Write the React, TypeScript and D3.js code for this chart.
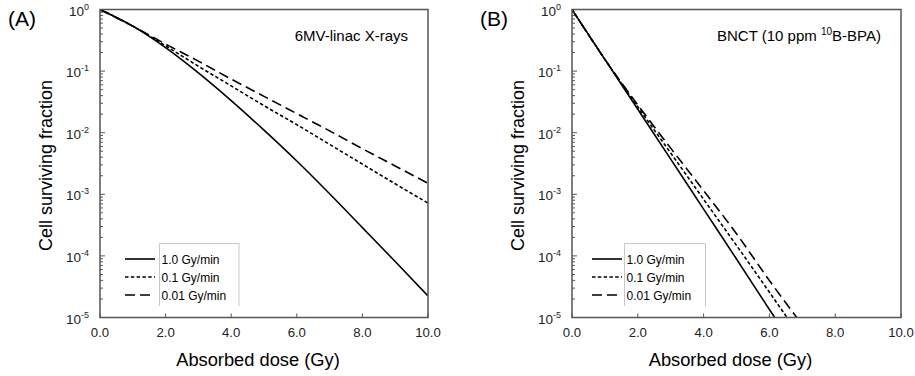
import React from "react";
import * as d3 from "d3";

// ---- data ----
const xTicks = [0, 2, 4, 6, 8, 10];
const xTickLabels = ["0.0", "2.0", "4.0", "6.0", "8.0", "10.0"];
const yDecades = [0, -1, -2, -3, -4, -5];
const seriesNames = ["1.0 Gy/min", "0.1 Gy/min", "0.01 Gy/min"];

const doseA = [0, 1, 2, 3, 4, 5, 6, 7, 8, 9, 10];
const sfA_10 = [1, 0.537, 0.24, 0.0933, 0.0331, 0.011, 0.00347, 0.00102, 0.000288, 0.000081, 0.0000224];
const sfA_01 = [1, 0.537, 0.257, 0.12, 0.0575, 0.0275, 0.0135, 0.00646, 0.00309, 0.00148, 0.00072];
const sfA_001 = [1, 0.537, 0.275, 0.145, 0.0741, 0.0389, 0.0204, 0.0107, 0.0055, 0.00288, 0.00151];

const doseB = [0, 1, 2, 3, 4, 5, 6, 7];
const sfB_10 = [1, 0.155, 0.024, 0.00372, 0.000575, 0.000089, 0.0000135, 0.0000021];
const sfB_01 = [1, 0.155, 0.0263, 0.00468, 0.00083, 0.000148, 0.0000257, 0.0000044];
const sfB_001 = [1, 0.155, 0.0282, 0.00562, 0.00115, 0.000229, 0.0000398, 0.0000076];

const dashes = [null, "3.5,2.3", "10,5"];
const FONT = "Arial, 'Liberation Sans', sans-serif";

type PanelProps = {
  id: string;
  left: number;
  right: number;
  letter: string;
  letterX: number;
  dose: number[];
  series: number[][];
  title: React.ReactNode;
  legendBox: [number, number];
  legendLine: [number, number];
};

function Panel(p: PanelProps) {
  const top = 9.5;
  const bottom = 317.5;
  const x = d3.scaleLinear().domain([0, 10]).range([p.left, p.right]);
  const y = d3.scaleLog().domain([1e-5, 1]).range([bottom, top]);
  const line = d3
    .line<[number, number]>()
    .x((d) => x(d[0]))
    .y((d) => y(d[1]))
    .curve(d3.curveMonotoneX);
  const minor: number[] = [];
  for (let k = -5; k < 0; k++) for (let m = 2; m <= 9; m++) minor.push(m * Math.pow(10, k));
  const frame = "#555";
  const cx = (p.left + p.right) / 2 - 6;
  const rows = [259, 277, 295];
  return (
    <g>
      <defs>
        <clipPath id={"clip" + p.id}>
          <rect x={p.left} y={top} width={p.right - p.left} height={bottom - top} />
        </clipPath>
      </defs>
      <text x={p.letterX} y={26} fontSize={21} fontFamily={FONT} fill="#000">{p.letter}</text>
      <g clipPath={`url(#clip${p.id})`}>
        {p.series.map((s, i) => (
          <path
            key={i}
            d={line(p.dose.map((d, j) => [d, s[j]] as [number, number])) || ""}
            fill="none"
            stroke="#000"
            strokeWidth={1.6}
            strokeDasharray={dashes[i] || undefined}
          />
        ))}
      </g>
      {/* frame */}
      <rect x={p.left} y={top} width={p.right - p.left} height={bottom - top} fill="none" stroke={frame} strokeWidth={1.5} />
      {/* y ticks */}
      {minor.map((v, i) => (
        <line key={"m" + i} x1={p.left} x2={p.left + 3} y1={y(v)} y2={y(v)} stroke={frame} strokeWidth={1} />
      ))}
      {yDecades.map((e) => (
        <g key={"d" + e}>
          <line x1={p.left} x2={p.left + 5} y1={y(Math.pow(10, e))} y2={y(Math.pow(10, e))} stroke={frame} strokeWidth={1} />
          <text x={p.left - 11} y={y(Math.pow(10, e)) + 6} fontSize={13.5} fontFamily={FONT} textAnchor="end" fill="#222">
            <tspan>10</tspan>
            <tspan dy={-6} fontSize={9}>{String(e)}</tspan>
          </text>
        </g>
      ))}
      {/* x ticks */}
      {xTicks.map((t, i) => (
        <g key={"x" + t}>
          <line x1={x(t)} x2={x(t)} y1={bottom} y2={bottom - 4} stroke={frame} strokeWidth={1} />
          <text x={x(t)} y={337} fontSize={13.2} fontFamily={FONT} textAnchor="middle" fill="#222">{xTickLabels[i]}</text>
        </g>
      ))}
      <text x={cx} y={366} fontSize={18.3} fontFamily={FONT} textAnchor="middle" fill="#000">Absorbed dose (Gy)</text>
      <text
        transform={`translate(${p.left - 48},${(top + bottom) / 2 + 2}) rotate(-90)`}
        fontSize={18}
        fontFamily={FONT}
        textAnchor="middle"
        fill="#000"
      >
        Cell surviving fraction
      </text>
      <text x={p.right - 20} y={41} fontSize={15} fontFamily={FONT} textAnchor="end" fill="#000">{p.title}</text>
      {/* legend */}
      <path
        d={`M${p.legendBox[0]},306 V243.5 H${p.legendBox[1]} V306`}
        fill="none"
        stroke="#c8c8c8"
        strokeWidth={1}
      />
      {seriesNames.map((n, i) => (
        <g key={n}>
          <line
            x1={p.legendLine[0]}
            x2={p.legendLine[1]}
            y1={rows[i]}
            y2={rows[i]}
            stroke="#000"
            strokeWidth={1.6}
            strokeDasharray={dashes[i] || undefined}
          />
          <text x={p.legendBox[0] + 2} y={rows[i] + 4.5} fontSize={12} fontFamily={FONT} fill="#000">{n}</text>
        </g>
      ))}
    </g>
  );
}

export default function App() {
  return (
    <svg width={915} height={376} style={{ position: "absolute", left: 0, top: 0, background: "#fff" }}>
      <rect width={915} height={376} fill="#fff" />
      <Panel
        id="A"
        left={100}
        right={428}
        letter="(A)"
        letterX={8}
        dose={doseA}
        series={[sfA_10, sfA_01, sfA_001]}
        title="6MV-linac X-rays"
        legendBox={[159.5, 239]}
        legendLine={[125, 155]}
      />
      <Panel
        id="B"
        left={572}
        right={901}
        letter="(B)"
        letterX={480}
        dose={doseB}
        series={[sfB_10, sfB_01, sfB_001]}
        title={
          <>
            <tspan>BNCT (10 ppm </tspan>
            <tspan dy={-6} fontSize={10}>10</tspan>
            <tspan dy={6}>B-BPA)</tspan>
          </>
        }
        legendBox={[624.5, 705.5]}
        legendLine={[592, 622]}
      />
    </svg>
  );
}
